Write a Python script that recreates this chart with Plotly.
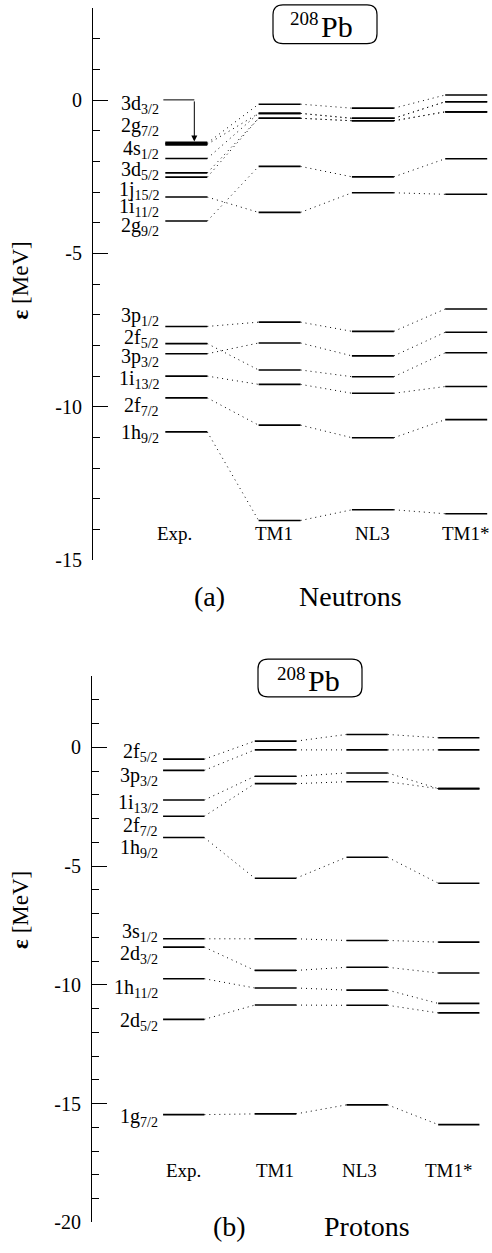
import plotly.graph_objects as go

W, H = 492, 1253
FONT = "Liberation Serif, Times New Roman, serif"

models = ["Exp.", "TM1", "NL3", "TM1*"]

# ---------------- Neutron single-particle levels (MeV) ----------------
n_states = ["3d<sub>3/2</sub>", "2g<sub>7/2</sub>", "4s<sub>1/2</sub>", "3d<sub>5/2</sub>",
            "1j<sub>15/2</sub>", "1i<sub>11/2</sub>", "2g<sub>9/2</sub>", "3p<sub>1/2</sub>",
            "2f<sub>5/2</sub>", "3p<sub>3/2</sub>", "1i<sub>13/2</sub>", "2f<sub>7/2</sub>",
            "1h<sub>9/2</sub>"]
n_exp = [-1.40, -1.44, -1.90, -2.37, -2.51, -3.16, -3.94, -7.38, -7.94, -8.27, -9.00, -9.71, -10.82]
n_tm1 = [-0.13, -0.43, -0.43, -0.59, -0.59, -3.66, -2.16, -7.24, -8.80, -7.92, -9.27, -10.60, -13.71]
n_nl3 = [-0.26, -0.59, -0.59, -0.67, -0.67, -3.02, -2.50, -7.54, -9.02, -8.34, -9.56, -11.01, -13.36]
n_tm1s = [0.17, -0.05, -0.05, -0.38, -0.38, -3.07, -1.91, -6.81, -8.24, -7.57, -9.34, -10.42, -13.49]
n_label_pos = [-0.02, -0.72, -1.48, -2.17, -2.81, -3.36, -4.00, -6.92, -7.65, -8.27, -8.99, -9.85, -10.73]

# ---------------- Proton single-particle levels (MeV) ----------------
p_states = ["2f<sub>5/2</sub>", "3p<sub>3/2</sub>", "1i<sub>13/2</sub>", "2f<sub>7/2</sub>",
            "1h<sub>9/2</sub>", "3s<sub>1/2</sub>", "2d<sub>3/2</sub>", "1h<sub>11/2</sub>",
            "2d<sub>5/2</sub>", "1g<sub>7/2</sub>"]
p_exp = [-0.50, -0.97, -2.22, -2.90, -3.80, -8.06, -8.41, -9.74, -11.45, -15.46]
p_tm1 = [0.26, -0.11, -1.22, -1.53, -5.51, -8.06, -9.39, -10.13, -10.85, -15.43]
p_nl3 = [0.54, -0.11, -1.08, -1.45, -4.63, -8.13, -9.26, -10.22, -10.86, -15.05]
p_tm1s = [0.40, -0.11, -1.74, -1.74, -5.72, -8.20, -9.50, -10.78, -11.18, -15.88]
p_label_pos = [-0.07, -1.08, -2.20, -3.17, -4.08, -7.62, -8.55, -9.98, -11.38, -15.41]

n_ticks = [0, -5, -10, -15]
p_ticks = [0, -5, -10, -15, -20]

HALF = 0.225


def px(x):
    return x / W


def py(y):
    return 1 - y / H


fig = go.Figure()


def add_panel(cols, xa, ya):
    solid_x, solid_y, thick_x, thick_y, dot_x, dot_y = [], [], [], [], [], []
    for ci, col in enumerate(cols):
        for li, e in enumerate(col):
            degenerate = any(abs(e - o) < 0.05 for oi, o in enumerate(col) if oi != li)
            if degenerate and ci == 0:
                thick_x += [ci - HALF, ci + HALF, None]
                thick_y += [e, e, None]
            else:
                solid_x += [ci - HALF, ci + HALF, None]
                solid_y += [e, e, None]
            if ci < len(cols) - 1:
                dot_x += [ci + HALF, ci + 1 - HALF, None]
                dot_y += [e, cols[ci + 1][li], None]
    fig.add_trace(go.Scatter(x=dot_x, y=dot_y, mode="lines", xaxis=xa, yaxis=ya,
                             line=dict(color="black", width=1, dash="1px,4px"),
                             hoverinfo="skip", showlegend=False))
    fig.add_trace(go.Scatter(x=solid_x, y=solid_y, mode="lines", xaxis=xa, yaxis=ya,
                             line=dict(color="black", width=1.6),
                             hoverinfo="skip", showlegend=False))
    fig.add_trace(go.Scatter(x=thick_x, y=thick_y, mode="lines", xaxis=xa, yaxis=ya,
                             line=dict(color="black", width=3),
                             hoverinfo="skip", showlegend=False))


add_panel([n_exp, n_tm1, n_nl3, n_tm1s], "x", "y")
add_panel([p_exp, p_tm1, p_nl3, p_tm1s], "x2", "y2")

# axes geometry (pixels)
top_y0, top_y1 = 565.0, 8.3      # -15 .. 3
bot_y0, bot_y1 = 1233.3, 682.0   # -20 .. 3

axis_common = dict(showline=True, linecolor="black", linewidth=1, ticks="inside",
                   ticklen=15, tickcolor="black", tickwidth=1, showgrid=False,
                   zeroline=False, ticklabelstandoff=6,
                   tickfont=dict(family=FONT, size=20, color="black"),
                   minor=dict(dtick=1, ticks="inside", ticklen=7, tickcolor="black",
                              tickwidth=1, showgrid=False))

fig.update_layout(
    width=W, height=H, margin=dict(l=0, r=0, t=0, b=0),
    paper_bgcolor="white", plot_bgcolor="white", showlegend=False,
    font=dict(family=FONT, color="black"),
    xaxis=dict(domain=[px(93), 1], range=[-1, (W - 93) / 93.3 - 1], visible=False,
               anchor="y"),
    yaxis=dict(domain=[py(top_y0), py(top_y1)], range=[-15, 3], anchor="x",
               tickvals=n_ticks, ticktext=[str(t) for t in n_ticks], **axis_common),
    xaxis2=dict(domain=[px(92), 1], range=[-1, (W - 92) / 91.7 - 1], visible=False,
                anchor="y2"),
    yaxis2=dict(domain=[py(bot_y0), py(bot_y1)], range=[-20, 3], anchor="x2",
                tickvals=p_ticks, ticktext=[str(t) for t in p_ticks], **axis_common),
)

ann = []
# state labels
for name, pos in zip(n_states, n_label_pos):
    ann.append(dict(x=-0.268, y=pos, xref="x", yref="y", text=name, showarrow=False,
                    xanchor="right", yanchor="middle", yshift=-4,
                    font=dict(family=FONT, size=20, color="black")))
for name, pos in zip(p_states, p_label_pos):
    ann.append(dict(x=-0.262, y=pos, xref="x2", yref="y2", text=name, showarrow=False,
                    xanchor="right", yanchor="middle", yshift=-4,
                    font=dict(family=FONT, size=20, color="black")))

# model labels
top_shift = [-12, -6, 0, 0]
bot_shift = [0, 0, -8, -10]
for i, m in enumerate(models):
    ann.append(dict(x=i, y=-14.15, xref="x", yref="y", text=m, showarrow=False,
                    xanchor="center", yanchor="middle",
                    xshift=top_shift[i], font=dict(family=FONT, size=19, color="black")))
    ann.append(dict(x=i, y=-17.8, xref="x2", yref="y2", text=m, showarrow=False,
                    xanchor="center", yanchor="middle",
                    xshift=bot_shift[i], font=dict(family=FONT, size=19, color="black")))

# arrow from 3d3/2 label to the Exp level
arrow_x = 0.086
fig.add_shape(type="line", xref="x", yref="y", x0=-0.246, x1=arrow_x,
              y0=n_label_pos[0] + 0.03, y1=n_label_pos[0] + 0.03,
              line=dict(color="black", width=1))
ann.append(dict(x=arrow_x, y=n_exp[0] + 0.05, ax=arrow_x, ay=n_label_pos[0] + 0.03,
                xref="x", yref="y", axref="x", ayref="y", text="", showarrow=True,
                arrowhead=2, arrowsize=1.2, arrowwidth=1, arrowcolor="black"))


def paper_text(x, y, text, size, **kw):
    d = dict(x=px(x), y=py(y), xref="paper", yref="paper", text=text, showarrow=False,
             xanchor="center", yanchor="middle",
             font=dict(family=FONT, size=size, color="black"))
    d.update(kw)
    ann.append(d)


# axis titles
for yc in (283, 918):
    paper_text(21, yc, "<b>ε</b> [MeV]", 23, textangle=-90)

# panel captions
paper_text(209, 602, "(a)", 28)
paper_text(350, 602, "Neutrons", 28)
paper_text(229, 1237, "(b)", 28)
paper_text(367, 1237, "Protons", 28)


# nucleus boxes with rounded corners
def rounded_box(x0, y0, x1, y1, r):
    rx, ry = r / W, r / H
    X0, X1 = px(x0), px(x1)
    Y0, Y1 = py(y1), py(y0)  # bottom, top in paper
    return (f"M {X0+rx},{Y1} L {X1-rx},{Y1} Q {X1},{Y1} {X1},{Y1-ry} "
            f"L {X1},{Y0+ry} Q {X1},{Y0} {X1-rx},{Y0} L {X0+rx},{Y0} "
            f"Q {X0},{Y0} {X0},{Y0+ry} L {X0},{Y1-ry} Q {X0},{Y1} {X0+rx},{Y1} Z")


for (bx0, by0, bx1, by1, tx, ty) in [(273, 5, 377, 44, 322, 25), (258, 665, 362, 703, 309, 685)]:
    fig.add_shape(type="path", xref="paper", yref="paper",
                  path=rounded_box(bx0, by0, bx1, by1, 10),
                  line=dict(color="black", width=1.2))
    paper_text(tx - 1, ty - 6, "208", 19, xanchor="right")
    paper_text(tx - 3, ty + 2, "Pb", 30, xanchor="left")

fig.update_layout(annotations=ann)
fig.write_html("out.html",
               config={"displayModeBar": False, "staticPlot": True},
               post_script="document.body.style.margin='0';"
                           "document.body.style.padding='0';"
                           "document.body.style.overflow='hidden';")
